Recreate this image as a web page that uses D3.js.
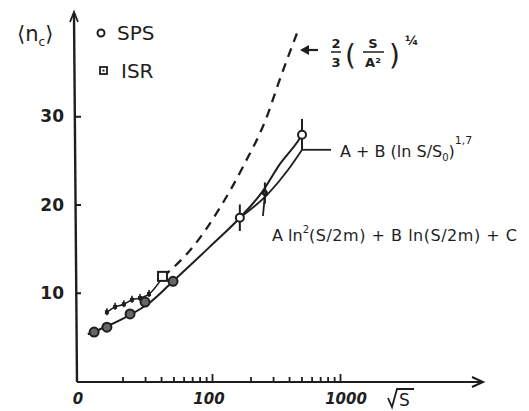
<!DOCTYPE html>
<html>
<head>
<meta charset="utf-8">
<script src="https://cdn.jsdelivr.net/npm/d3@7"></script>
<style>
  body { margin: 0; background: #fff; }
  text { font-family: "DejaVu Sans", sans-serif; fill: #1e1e1e; }
</style>
</head>
<body>
<div id="wrapper"></div>
<script>
// DATA (sqrt(s) in GeV, <n_c>)
const spsPoints = [[12.0, 5.55], [15.1, 6.1], [22.9, 7.6], [30, 8.95], [49.6, 11.3]];
const spsHigh = [[165, 18.5, 1.5], [259, 21.3, 1.2], [505, 27.9, 1.8]];
const isrPoints = [[15.1, 7.8], [17.5, 8.4], [20.5, 8.7], [23.7, 9.2], [27.4, 9.4], [32.2, 9.85]];
const isrBig = [[41.4, 11.8]];
const fitLn2 = [[10.7, 5.3], [15.1, 6.2], [22.9, 7.5], [32.8, 8.9], [49.6, 11.3], [96, 15.2], [165, 18.5], [246, 21.4], [340, 24.6], [470, 27.2], [495, 27.7]];
const fitPow = [[165, 18.5], [274, 21.2], [392, 23.9], [505, 26.2]];
const dashedCurve = [[41.4, 11.8], [71, 15.2], [115, 19.6], [175, 24.3], [274, 30.3], [328, 33.6], [461, 39.4]];
const xMinorTicks = [20, 30, 40, 50, 60, 70, 80, 90, 200, 300, 400, 500, 600, 700, 800, 900];
const xMajorTicks = [100, 1000];
const yTicks = [10, 20, 30];

const W = 529, H = 411;
const ink = "#1e1e1e";

const svg = d3.select("#wrapper").append("svg")
  .attr("width", W).attr("height", H)
  .attr("viewBox", [0, 0, W, H]);

const x = d3.scaleLog().domain([10, 1000]).range([84, 340]);
const y = d3.scaleLinear().domain([0, 40]).range([381, 28]);
const x0 = 77, y0 = 382;

//AXES
const g = svg.append("g");
g.append("line").attr("x1", x0).attr("y1", y0).attr("x2", 482).attr("y2", y0)
  .attr("stroke", ink).attr("stroke-width", 2.2);
g.append("path").attr("d", `M472,${y0 - 5} L483,${y0} L472,${y0 + 5}`)
  .attr("fill", "none").attr("stroke", ink).attr("stroke-width", 2);
g.append("line").attr("x1", x0).attr("y1", y0).attr("x2", x0 - 3).attr("y2", 14)
  .attr("stroke", ink).attr("stroke-width", 2.4);
g.append("path").attr("d", `M${x0 - 7},22 L${x0 - 3},12 L${x0 + 1},22`)
  .attr("fill", "none").attr("stroke", ink).attr("stroke-width", 1.8);

const xAxisMinor = d3.axisTop(x).tickValues(xMinorTicks).tickSize(5).tickFormat("");
const xAxisMajor = d3.axisTop(x).tickValues(xMajorTicks).tickSize(8).tickFormat("");
[xAxisMinor, xAxisMajor].forEach(ax => {
  const a = svg.append("g").attr("transform", `translate(0,${y0})`).call(ax);
  a.select(".domain").remove();
  a.selectAll("line").attr("stroke", ink).attr("stroke-width", 1.8);
});

const yAxis = d3.axisRight(y).tickValues(yTicks).tickSize(5).tickFormat("");
const ya = svg.append("g").attr("transform", `translate(${x0 - 1},0)`).call(yAxis);
ya.select(".domain").remove();
ya.selectAll("line").attr("stroke", ink).attr("stroke-width", 2);

svg.selectAll(".ylab").data(yTicks).join("text")
  .attr("class", "ylab")
  .attr("x", 64).attr("y", d => y(d) + 6)
  .attr("text-anchor", "end")
  .attr("font-size", 17).attr("font-weight", "bold")
  .text(d => d);

svg.append("text").attr("x", 78).attr("y", 404).attr("text-anchor", "middle")
  .attr("font-size", 15).attr("font-weight", "bold").attr("font-style", "italic").text("0");
svg.selectAll(".xlab").data(xMajorTicks).join("text")
  .attr("class", "xlab")
  .attr("x", d => x(d) + (d === 1000 ? 6 : -3)).attr("y", 404)
  .attr("text-anchor", "middle")
  .attr("font-size", 15).attr("font-weight", "bold").attr("font-style", "italic")
  .text(d => d);
// sqrt(s)
svg.append("path").attr("d", "M388,398 L392,407 L397,389 L414,389")
  .attr("fill", "none").attr("stroke", ink).attr("stroke-width", 1.8);
svg.append("text").attr("x", 399).attr("y", 406).attr("font-size", 17).text("S");

// y label <n_c>
const yl = svg.append("text").attr("x", 17).attr("y", 41).attr("font-size", 21);
yl.append("tspan").text("\u27e8n");
yl.append("tspan").attr("font-size", 12).attr("dy", 5).text("c");
yl.append("tspan").attr("dy", -5).text("\u27e9");

//LEGEND
svg.append("circle").attr("cx", 101).attr("cy", 33).attr("r", 3.5)
  .attr("fill", "none").attr("stroke", ink).attr("stroke-width", 2);
svg.append("text").attr("x", 117).attr("y", 40).attr("font-size", 20).text("SPS");
svg.append("rect").attr("x", 100).attr("y", 67).attr("width", 7).attr("height", 7)
  .attr("fill", "none").attr("stroke", ink).attr("stroke-width", 1.8);
svg.append("rect").attr("x", 102.5).attr("y", 69.5).attr("width", 2).attr("height", 2).attr("fill", ink);
svg.append("text").attr("x", 121).attr("y", 78).attr("font-size", 20).text("ISR");

//CURVES
const line = d3.line().x(d => x(d[0])).y(d => y(d[1])).curve(d3.curveMonotoneX);

svg.append("path").datum(dashedCurve).attr("d", line)
  .attr("fill", "none").attr("stroke", ink).attr("stroke-width", 2.3)
  .attr("stroke-dasharray", "9,7");
svg.append("path").datum(isrPoints.concat(isrBig)).attr("d", line)
  .attr("fill", "none").attr("stroke", ink).attr("stroke-width", 1.6);
svg.append("path").datum(fitLn2).attr("d", line)
  .attr("fill", "none").attr("stroke", ink).attr("stroke-width", 2);
svg.append("path").datum(fitPow).attr("d", line)
  .attr("fill", "none").attr("stroke", ink).attr("stroke-width", 1.8);

//POINTS
svg.selectAll(".sps").data(spsPoints).join("circle")
  .attr("class", "sps")
  .attr("cx", d => x(d[0])).attr("cy", d => y(d[1])).attr("r", 4.5)
  .attr("fill", "#666").attr("stroke", ink).attr("stroke-width", 2);

svg.selectAll(".spsErr").data(spsHigh).join("line")
  .attr("class", "spsErr")
  .attr("x1", d => x(d[0])).attr("x2", d => x(d[0]))
  .attr("y1", d => y(d[1] - d[2])).attr("y2", d => y(d[1] + d[2]))
  .attr("stroke", ink).attr("stroke-width", 2);
svg.selectAll(".spsHigh").data(spsHigh).join("circle")
  .attr("class", "spsHigh")
  .attr("cx", d => x(d[0])).attr("cy", d => y(d[1])).attr("r", (d, i) => i === 1 ? 2 : 4)
  .attr("fill", "#fff").attr("stroke", ink).attr("stroke-width", 2);

svg.selectAll(".isrErr").data(isrPoints).join("line")
  .attr("class", "isrErr")
  .attr("x1", d => x(d[0])).attr("x2", d => x(d[0]))
  .attr("y1", d => y(d[1]) - 4).attr("y2", d => y(d[1]) + 3)
  .attr("stroke", ink).attr("stroke-width", 1.6);
svg.selectAll(".isr").data(isrPoints).join("rect")
  .attr("class", "isr")
  .attr("x", d => x(d[0]) - 2).attr("y", d => y(d[1]) - 2)
  .attr("width", 4).attr("height", 4)
  .attr("fill", ink);
svg.selectAll(".isrBig").data(isrBig).join("rect")
  .attr("class", "isrBig")
  .attr("x", d => x(d[0]) - 5).attr("y", d => y(d[1]) - 5)
  .attr("width", 9).attr("height", 9)
  .attr("fill", "#fff").attr("stroke", ink).attr("stroke-width", 2);

//ANNOTATIONS
// pointer for the ln^2 fit
svg.append("line")
  .attr("x1", x(250)).attr("y1", y(18.7)).attr("x2", x(262)).attr("y2", y(21.8))
  .attr("stroke", ink).attr("stroke-width", 1.8);
// pointer for the power fit
const pEnd = fitPow[fitPow.length - 1];
svg.append("line")
  .attr("x1", x(pEnd[0]) + 1).attr("y1", y(pEnd[1]))
  .attr("x2", x(pEnd[0]) + 29).attr("y2", y(pEnd[1]))
  .attr("stroke", ink).attr("stroke-width", 1.8);

// label: 2/3 (S/A^2)^(1/4)
const lblTop = svg.append("g");
lblTop.append("line").attr("x1", 318).attr("y1", 50).attr("x2", 302).attr("y2", 50)
  .attr("stroke", ink).attr("stroke-width", 2.2);
lblTop.append("path").attr("d", "M309,45 L300,50 L309,55 Z").attr("fill", ink);
lblTop.append("text").attr("x", 336).attr("y", 48).attr("text-anchor", "middle").attr("font-size", 13).attr("font-weight", "bold").text("2");
lblTop.append("line").attr("x1", 331).attr("x2", 341).attr("y1", 52).attr("y2", 52).attr("stroke", ink).attr("stroke-width", 1.5);
lblTop.append("text").attr("x", 336).attr("y", 67).attr("text-anchor", "middle").attr("font-size", 13).attr("font-weight", "bold").text("3");
lblTop.append("text").attr("x", 345).attr("y", 65).attr("font-size", 28).text("(");
lblTop.append("text").attr("x", 373).attr("y", 48).attr("text-anchor", "middle").attr("font-size", 13).attr("font-weight", "bold").text("S");
lblTop.append("line").attr("x1", 363).attr("x2", 384).attr("y1", 52).attr("y2", 52).attr("stroke", ink).attr("stroke-width", 1.5);
lblTop.append("text").attr("x", 373).attr("y", 67).attr("text-anchor", "middle").attr("font-size", 13).attr("font-weight", "bold").text("A\u00b2");
lblTop.append("text").attr("x", 389).attr("y", 65).attr("font-size", 28).text(")");
lblTop.append("text").attr("x", 405).attr("y", 45).attr("font-size", 13).attr("font-weight", "bold").text("\u00bc");

// label: A + B (ln S/S0)^1,7
const l2 = svg.append("text").attr("x", 340).attr("y", 157).attr("font-size", 16);
l2.append("tspan").text("A + B (ln S/S");
l2.append("tspan").attr("font-size", 10).attr("dy", 4).text("0");
l2.append("tspan").attr("dy", -4).text(")");
l2.append("tspan").attr("font-size", 11).attr("dy", -13).text("1,7");

// label: A ln^2(S/2m) + B ln(S/2m) + C
const l3 = svg.append("text").attr("x", 272).attr("y", 241).attr("font-size", 16);
l3.append("tspan").text("A ln");
l3.append("tspan").attr("font-size", 10).attr("dy", -8).text("2");
l3.append("tspan").attr("dy", 8).attr("textLength", 208).attr("lengthAdjust", "spacing")
  .text("(S/2m) + B ln(S/2m) + C");
</script>
</body>
</html>
